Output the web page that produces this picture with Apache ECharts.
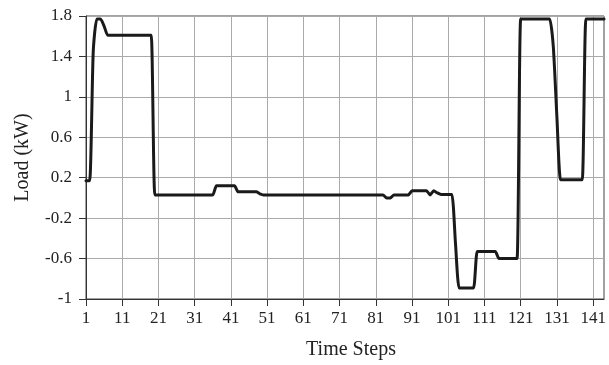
<!DOCTYPE html>
<html>
<head>
<meta charset="utf-8">
<script src="https://cdn.jsdelivr.net/npm/echarts@6/dist/echarts.min.js"></script>
<style>
html,body{margin:0;padding:0;background:#fff;}
#chart{width:609px;height:365px;}
</style>
</head>
<body>
<div id="chart"></div>
<script>
var timeSteps = [];
for (var i = 1; i <= 144; i++) timeSteps.push(String(i));

var load = [
  0.17, 0.17, 1.45, 1.77, 1.77, 1.70, 1.61, 1.61, 1.61, 1.61,
  1.61, 1.61, 1.61, 1.61, 1.61, 1.61, 1.61, 1.61, 1.61, 0.03,
  0.03, 0.03, 0.03, 0.03, 0.03, 0.03, 0.03, 0.03, 0.03, 0.03,
  0.03, 0.03, 0.03, 0.03, 0.03, 0.03, 0.12, 0.12, 0.12, 0.12,
  0.12, 0.12, 0.06, 0.06, 0.06, 0.06, 0.06, 0.06, 0.04, 0.03,
  0.03, 0.03, 0.03, 0.03, 0.03, 0.03, 0.03, 0.03, 0.03, 0.03,
  0.03, 0.03, 0.03, 0.03, 0.03, 0.03, 0.03, 0.03, 0.03, 0.03,
  0.03, 0.03, 0.03, 0.03, 0.03, 0.03, 0.03, 0.03, 0.03, 0.03,
  0.03, 0.03, 0.03, 0.00, 0.00, 0.03, 0.03, 0.03, 0.03, 0.03,
  0.07, 0.07, 0.07, 0.07, 0.07, 0.03, 0.07, 0.05, 0.035, 0.035,
  0.035, 0.035, -0.45, -0.89, -0.89, -0.89, -0.89, -0.89, -0.53, -0.53,
  -0.53, -0.53, -0.53, -0.53, -0.60, -0.60, -0.60, -0.60, -0.60, -0.60,
  1.77, 1.77, 1.77, 1.77, 1.77, 1.77, 1.77, 1.77, 1.77, 1.50,
  0.80, 0.18, 0.18, 0.18, 0.18, 0.18, 0.18, 0.18, 1.77, 1.77,
  1.77, 1.77, 1.77, 1.77
];

var yMin = -1, yMax = 1.8, yStep = 0.4;
var xLabelEvery = 10;

var font = 'Liberation Serif';
var chart = echarts.init(document.getElementById('chart'), null, {renderer: 'canvas'});
chart.setOption({
  animation: false,
  backgroundColor: '#fff',
  grid: {left: 86, right: 5, top: 16, bottom: 66, show: true, borderColor: '#444', borderWidth: 1, backgroundColor: 'transparent'},
  xAxis: {
    type: 'category',
    data: timeSteps,
    boundaryGap: false,
    name: 'Time Steps',
    nameLocation: 'middle',
    nameGap: 41,
    nameTextStyle: {fontFamily: font, fontSize: 20, color: '#222', padding: [0, 0, 0, 12]},
    axisLine: {onZero: false, lineStyle: {color: '#333', width: 1}},
    axisTick: {show: true, length: 7, interval: function (i) { return i % xLabelEvery === 0; }, lineStyle: {color: '#333'}},
    axisLabel: {interval: function (i) { return i % xLabelEvery === 0; }, fontFamily: font, fontSize: 17, color: '#222', margin: 11},
    splitLine: {show: true, interval: function (i) { return i % xLabelEvery === 0; }, lineStyle: {color: '#aaa', width: 1}}
  },
  yAxis: {
    type: 'value',
    min: yMin, max: yMax, interval: yStep,
    name: 'Load (kW)',
    nameLocation: 'middle',
    nameGap: 53,
    nameTextStyle: {fontFamily: font, fontSize: 20, color: '#222'},
    axisLine: {show: true, onZero: false, lineStyle: {color: '#333', width: 1}},
    axisTick: {show: true, length: 7, lineStyle: {color: '#333'}},
    axisLabel: {fontFamily: font, fontSize: 17, color: '#222', margin: 14,
      formatter: function (v) { return String(Math.round(v * 10) / 10); }},
    splitLine: {show: true, lineStyle: {color: '#aaa', width: 1}}
  },
  series: [{
    type: 'line',
    data: load,
    showSymbol: false,
    smooth: 0.2,
    lineStyle: {color: '#1a1a1a', width: 3, join: 'round', cap: 'round'}
  }]
});
</script>
</body>
</html>
